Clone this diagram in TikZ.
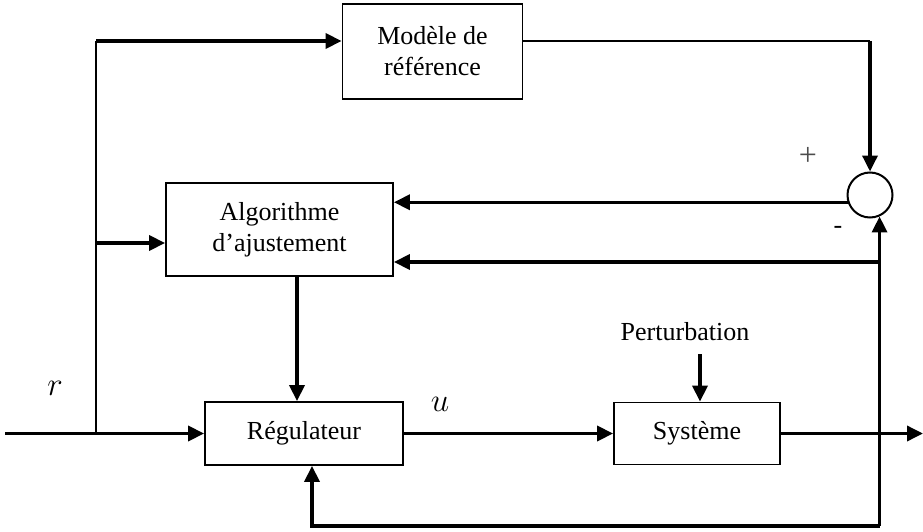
\documentclass[tikz,border=0pt]{standalone}
\usepackage{fix-cm}
\usepackage{fontspec}
\setmainfont{Liberation Serif}
\usetikzlibrary{arrows.meta}
\begin{document}
\begin{tikzpicture}[x=1pt,y=-1pt,
  blk/.style={draw,line width=1.8pt,rectangle,inner sep=0pt,align=center,
    font=\fontsize{26}{31}\selectfont},
  sig/.style={line width=3.5pt,-{Triangle[length=16pt,width=15pt]}},
  wire/.style={line width=2pt},
  lbl/.style={font=\fontsize{26}{31}\selectfont},
  mathlbl/.style={font=\fontsize{33}{38}\selectfont}]
\useasboundingbox (0,0) rectangle (923,532);

% blocks
\node[blk,minimum width=180pt,minimum height=95pt] (mod) at (432.5,51.5) {Modèle de\\référence};
\node[blk,minimum width=227pt,minimum height=93pt] (algo) at (279.5,229.5) {Algorithme\\d’ajustement};
\node[blk,minimum width=198pt,minimum height=63pt] (reg) at (304,433.5) {Régulateur};
\node[blk,minimum width=166pt,minimum height=62pt] (sys) at (697,433.5) {Système};
\node[draw,circle,line width=2pt,minimum size=45pt,inner sep=0pt] (sum) at (870,195) {};

% labels
\node[lbl] (pert) at (685,332) {Perturbation};
\node[mathlbl] (rl) at (55,388) {$r$};
\node[mathlbl] (ul) at (440,404) {$u$};
\node[font=\fontsize{32}{36}\selectfont,text=black!70] (plus) at (808,156) {+};
\node[lbl] (minus) at (838,230) {-};

% helper points
\coordinate (in) at (5,433.5);
\coordinate (br) at (96,433.5);
\coordinate (top) at (96,41);
\coordinate (mid) at (96,243);
\coordinate (corner) at (870,41);
\coordinate (out) at (923,433.5);
\coordinate (fb) at (sum.-66 |- 0,526);
\coordinate (j) at (sum.-66 |- 0,262);
\coordinate (fbl) at (312,526);
\coordinate (pt) at (700,354);
\coordinate (a1) at (297,276);

% reference branch
\draw[wire] (br) -- (top);
\draw[sig] (top) -- (top -| mod.west);
\draw[sig] (mid) -- (mid -| algo.west);
\draw[wire,line width=2.4pt] (mod.east |- corner) -- (corner);
\draw[sig] (corner) -- (sum.north);

% adaptation loop
\draw[sig] (sum.198) -- (sum.198 -| algo.east);
\draw[sig] (j) -- (j -| algo.east);
\draw[sig] (a1) -- (a1 |- reg.north);

% main loop
\draw[sig] (in) -- (reg.west);
\draw[sig] (reg.east) -- (sys.west);
\draw[sig] (pt) -- (pt |- sys.north);
\draw[sig] (sys.east) -- (out);
\draw[sig] (fb) -- (sum.-66);
\draw[sig] (fb) -- (fbl) -- (fbl |- reg.south);
\end{tikzpicture}
\end{document}
